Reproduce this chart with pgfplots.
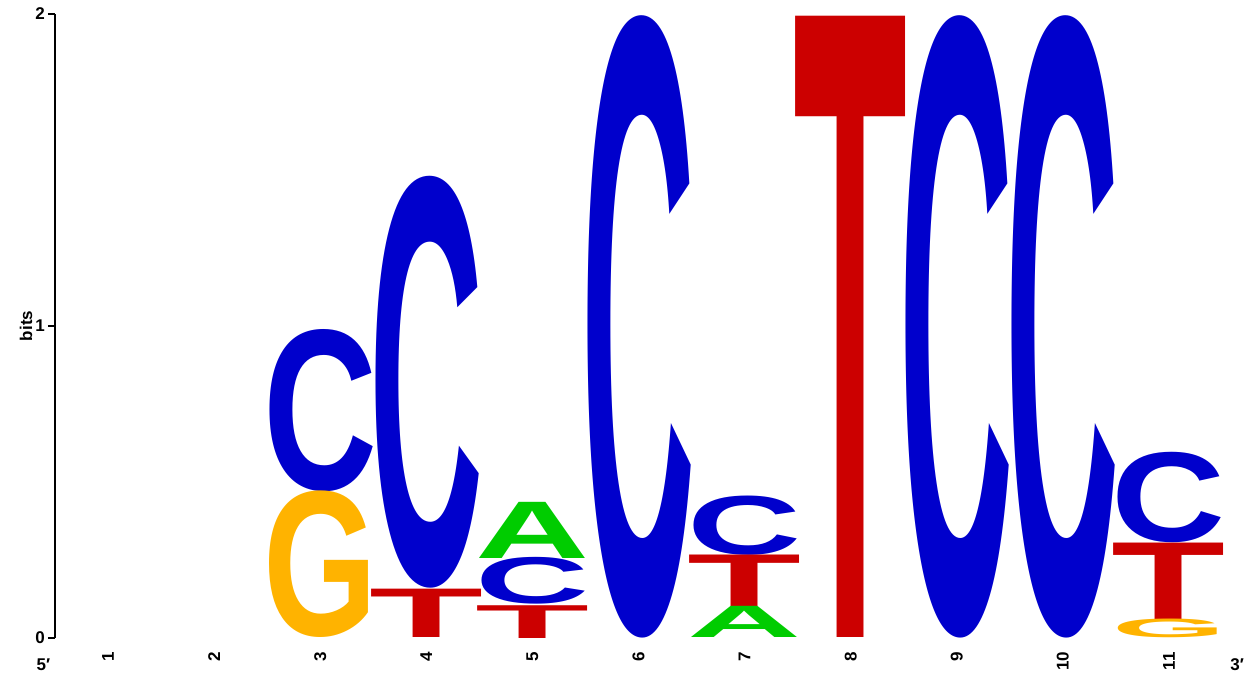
\documentclass[border=0pt]{standalone}
\usepackage{pgfplots}
\pgfplotsset{compat=1.18}
\usepackage{pgfplotstable}
\usepackage{graphicx}
\usepackage{fontspec}
\setmainfont{Liberation Sans}

\definecolor{lgA}{RGB}{0,204,0}
\definecolor{lgC}{RGB}{0,0,204}
\definecolor{lgG}{RGB}{255,179,0}
\definecolor{lgT}{RGB}{204,0,0}

% x = position, y = bottom of the letter (bits), h = letter height (bits)
\pgfplotstableread{
x y h
3 0.470 0.520
4 0.160 1.320
5 0.110 0.150
6 0.000 1.990
7 0.265 0.190
9 0.000 1.990
10 0.000 1.990
11 0.305 0.290
}\tabC
\pgfplotstableread{
x y h
4 0.000 0.155
5 0.000 0.105
7 0.100 0.165
8 0.000 1.990
11 0.060 0.245
}\tabT
\pgfplotstableread{
x y h
5 0.255 0.180
7 0.000 0.100
}\tabA
\pgfplotstableread{
x y h
3 0.000 0.470
11 0.000 0.060
}\tabG

% one bit = 156pt (axis height 312pt over 0..2)
\pgfplotsset{
  logo/.style 2 args={
    only marks, mark=none, clip=false,
    visualization depends on={\thisrow{h}*156 \as \hh},
    nodes near coords={\resizebox*{57pt}{\hh pt}{\color{#2}\bfseries #1}},
    every node near coord/.append style={anchor=south, inner sep=0pt, outer sep=0pt},
  }
}

\begin{document}
\begin{tikzpicture}
\begin{axis}[
    scale only axis,
    width=583.5pt, height=312pt,
    xmin=0.5, xmax=11.5,
    ymin=0, ymax=2,
    axis lines=left,
    axis line style={-},
    x axis line style={draw=none},
    xtick={1,...,11},
    xtick style={draw=none},
    /pgf/number format/assume math mode=true,
    xticklabel style={rotate=90, anchor=east, font=\fontsize{8.5}{9}\selectfont\bfseries},
    ytick={0,1,2},
    ytick style={black, line width=0.6pt},
    tick align=outside,
    major tick length=3.5pt,
    yticklabel style={font=\fontsize{8.5}{9}\selectfont\bfseries, xshift=2pt},
    y axis line style={line width=0.6pt},
    ylabel={bits},
    ylabel style={font=\fontsize{8.5}{9}\selectfont\bfseries, at={(axis description cs:-0.0135,0.5)}, anchor=south},
    clip=false,
]
\addplot[logo={C}{lgC}] table[x=x, y=y] {\tabC};
\addplot[logo={T}{lgT}] table[x=x, y=y] {\tabT};
\addplot[logo={A}{lgA}] table[x=x, y=y] {\tabA};
\addplot[logo={G}{lgG}] table[x=x, y=y] {\tabG};
\node[font=\fontsize{8.5}{9}\selectfont\bfseries, anchor=north] at (rel axis cs:-0.01,-0.022) {5′};
\node[font=\fontsize{8.5}{9}\selectfont\bfseries, anchor=north] at (rel axis cs:1.013,-0.022) {3′};
\end{axis}
\pgfresetboundingbox
\path[use as bounding box] (-27.5pt,-21pt) rectangle (596pt,319pt);
\end{tikzpicture}
\end{document}
